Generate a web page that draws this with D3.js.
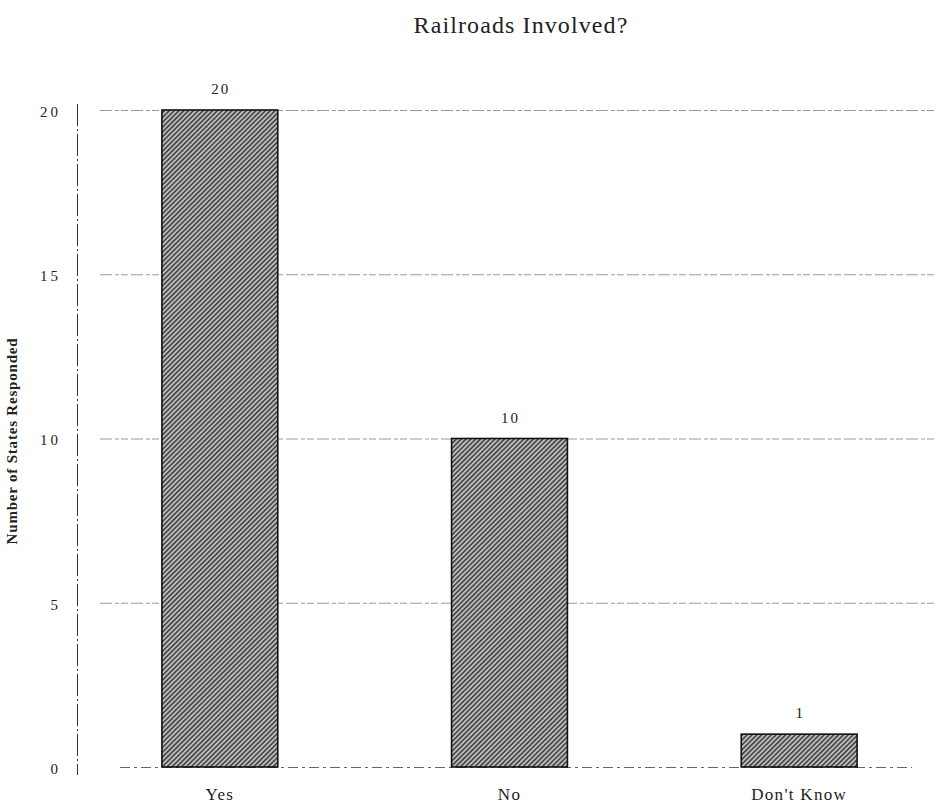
<!DOCTYPE html>
<html>
<head>
<meta charset="utf-8">
<script src="https://cdn.jsdelivr.net/npm/d3@7"></script>
<style>
  html, body { margin: 0; padding: 0; background: #fff; }
  svg { display: block; }
</style>
</head>
<body>
<svg id="chart" width="936" height="805"></svg>
<script>
// Survey answers: how many states said railroads were involved
const categories = ["Yes", "No", "Don't Know"];
const counts = [20, 10, 1];
const yTicks = [0, 5, 10, 15, 20];
const titleText = "Railroads Involved?";
const yAxisTitle = "Number of States Responded";

const svg = d3.select("#chart");
const serif = "'Liberation Serif', 'Times New Roman', serif";

const x = d3.scaleBand()
  .domain(categories)
  .range([75, 944])
  .paddingInner(0.6)
  .paddingOuter(0.3);

const y = d3.scaleLinear()
  .domain([0, 20])
  .range([767, 110]);

// hatched fill for the bars
const defs = svg.append("defs");
const pat = defs.append("pattern")
  .attr("id", "hatch")
  .attr("patternUnits", "userSpaceOnUse")
  .attr("width", 3.4)
  .attr("height", 3.4)
  .attr("patternTransform", "rotate(45)");
pat.append("rect").attr("width", 3.4).attr("height", 3.4).attr("fill", "#bdbdbd");
pat.append("rect").attr("width", 1.5).attr("height", 3.4).attr("fill", "#3c3c3c");

// horizontal gridlines
svg.append("g")
  .selectAll("line")
  .data(yTicks.filter(d => d > 0))
  .join("line")
  .attr("x1", 100)
  .attr("x2", 936)
  .attr("y1", d => y(d) + 0.5)
  .attr("y2", d => y(d) + 0.5)
  .attr("stroke", "#9a9a9a")
  .attr("stroke-width", 1)
  .attr("stroke-dasharray", "12 3 4 2 7 3");

// baseline
svg.append("line")
  .attr("x1", 120).attr("x2", 912)
  .attr("y1", y(0) + 0.5).attr("y2", y(0) + 0.5)
  .attr("stroke", "#666")
  .attr("stroke-dasharray", "10 4 3 4");

// y axis line
svg.append("line")
  .attr("x1", 77.5).attr("x2", 77.5)
  .attr("y1", y(20) - 6).attr("y2", y(0) + 8)
  .attr("stroke", "#333")
  .attr("stroke-dasharray", "22 3 2 3");

// y tick labels
const yAxis = d3.axisLeft(y).tickValues(yTicks).tickSize(0).tickPadding(0);
const yg = svg.append("g").attr("transform", "translate(61,0)").call(yAxis);
yg.select(".domain").remove();
yg.selectAll("text")
  .attr("dy", "0.42em")
  .attr("font-family", serif)
  .attr("font-size", 15)
  .attr("fill", "#222")
  .attr("letter-spacing", "3px");

// bars
svg.append("g")
  .selectAll("rect")
  .data(categories.map((c, i) => ({ c, v: counts[i] })))
  .join("rect")
  .attr("x", d => x(d.c))
  .attr("y", d => y(d.v))
  .attr("width", x.bandwidth())
  .attr("height", d => y(0) - y(d.v))
  .attr("fill", "url(#hatch)")
  .attr("stroke", "#111")
  .attr("stroke-width", 1.6);

// value labels
svg.append("g")
  .selectAll("text")
  .data(categories.map((c, i) => ({ c, v: counts[i] })))
  .join("text")
  .attr("x", d => x(d.c) + x.bandwidth() / 2 + 1)
  .attr("y", d => y(d.v) - 16)
  .attr("text-anchor", "middle")
  .attr("font-family", serif)
  .attr("font-size", 15)
  .attr("fill", "#222")
  .attr("letter-spacing", "2px")
  .text(d => d.v);

// category labels
const xAxis = d3.axisBottom(x).tickSize(0).tickPadding(0);
const xg = svg.append("g").attr("transform", "translate(0,800)").call(xAxis);
xg.select(".domain").remove();
xg.selectAll("text")
  .attr("dy", 0)
  .attr("font-family", serif)
  .attr("font-size", 17)
  .attr("fill", "#222")
  .attr("letter-spacing", "1.3px");

// title
svg.append("text")
  .attr("x", 521)
  .attr("y", 33)
  .attr("text-anchor", "middle")
  .attr("font-family", serif)
  .attr("font-size", 24)
  .attr("fill", "#222")
  .attr("letter-spacing", "1.1px")
  .text(titleText);

// y axis title
svg.append("text")
  .attr("transform", "translate(17,441) rotate(-90)")
  .attr("text-anchor", "middle")
  .attr("font-family", serif)
  .attr("font-size", 15)
  .attr("font-weight", "bold")
  .attr("fill", "#222")
  .attr("letter-spacing", "0.8px")
  .text(yAxisTitle);
</script>
</body>
</html>
